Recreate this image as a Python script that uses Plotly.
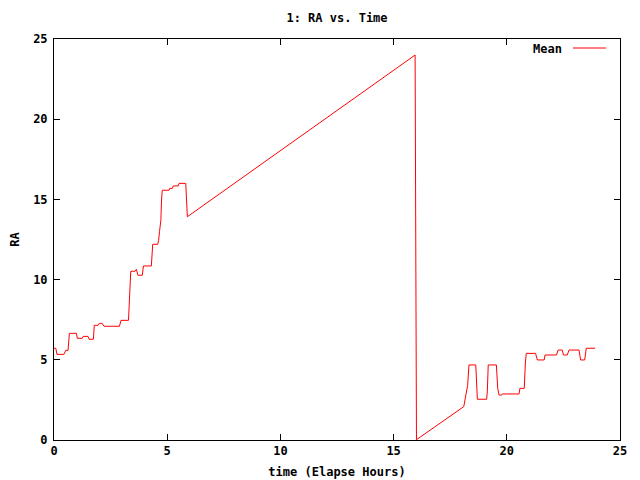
import plotly.graph_objects as go

# Mean RA vs elapsed time
time_hours = [0, 0.08, 0.13, 0.44, 0.52, 0.62, 0.68, 0.99, 1.03, 1.25, 1.29, 1.5, 1.55, 1.74,
              1.78, 1.95, 2.0, 2.13, 2.21, 2.89, 2.96, 3.29, 3.39, 3.58, 3.64, 3.71, 3.9,
              3.95, 4.3, 4.36, 4.58, 4.62, 4.66, 4.72, 4.75, 4.78, 5.08, 5.11, 5.23, 5.27,
              5.49, 5.52, 5.82, 5.89, 15.95, 15.97, 16.0, 16.01, 18.1, 18.17, 18.27, 18.33,
              18.63, 18.7, 19.11, 19.14, 19.18, 19.54, 19.6, 19.66, 19.77, 19.8, 20.54,
              20.58, 20.77, 20.82, 20.86, 21.27, 21.35, 21.65, 21.69, 22.19, 22.27, 22.45,
              22.5, 22.67, 22.75, 23.19, 23.26, 23.44, 23.51, 23.9]
ra_mean = [5.72, 5.72, 5.34, 5.34, 5.59, 5.59, 6.65, 6.65, 6.34, 6.34, 6.46, 6.46, 6.28, 6.28,
           7.15, 7.15, 7.27, 7.27, 7.09, 7.09, 7.46, 7.46, 10.52, 10.52, 10.64, 10.27, 10.27,
           10.85, 10.85, 12.2, 12.2, 12.43, 12.99, 13.7, 14.96, 15.57, 15.57, 15.69, 15.69, 15.84,
           15.84, 16.0, 16.0, 13.92, 24.0, 12.1, 12.0, 0.02, 2.08, 2.54, 3.4, 4.68,
           4.68, 2.54, 2.54, 3.05, 4.68, 4.68, 3.2, 2.8, 2.8, 2.87, 2.87,
           3.22, 3.22, 4.8, 5.4, 5.4, 4.99, 4.99, 5.3, 5.3, 5.61, 5.61,
           5.3, 5.3, 5.61, 5.61, 4.99, 4.99, 5.72, 5.72]

x_ticks = [0, 5, 10, 15, 20, 25]
y_ticks = [0, 5, 10, 15, 20, 25]

FONT = "DejaVu Sans Mono"
TXT = dict(family=FONT, size=12, color="black", weight="bold")

# The page adds an 8px body margin, so the figure is drawn 8px smaller/shifted.
W, H = 632, 472
L, T = 46, 31          # plot area starts at page (54, 39)
PW, PH = 566, 401      # plot area size
R, B = W - L - PW, H - T - PH

fig = go.Figure()
fig.add_trace(go.Scatter(x=time_hours, y=ra_mean, mode="lines", name="Mean",
                         line=dict(color="#ff0000", width=1), showlegend=False))

axis_common = dict(showline=True, linecolor="black", linewidth=1, mirror="ticks",
                   ticks="inside", ticklen=6, tickcolor="black", tickwidth=1,
                   showgrid=False, zeroline=False, automargin=False,
                   tickfont=TXT)

fig.update_layout(
    width=W, height=H,
    margin=dict(l=L, r=R, t=T, b=B, autoexpand=False),
    paper_bgcolor="white", plot_bgcolor="white",
    font=TXT,
    title=dict(text="1: RA vs. Time", x=(L + PW / 2) / W, xanchor="center",
               y=1 - 10 / H, yanchor="middle", font=TXT),
    xaxis=dict(range=[0, 25], tickvals=x_ticks, ticktext=[str(v) for v in x_ticks],
               title=dict(text="time (Elapse Hours)", standoff=10, font=TXT), **axis_common),
    yaxis=dict(range=[0, 25], tickvals=y_ticks, ticktext=[str(v) for v in y_ticks],
               ticklabelstandoff=3,
               title=dict(text="RA", standoff=14, font=TXT), **axis_common),
    annotations=[dict(text="Mean", xref="paper", yref="paper", x=(564 - 54) / PW,
                      y=(440 - 49) / PH, xanchor="right", yanchor="middle",
                      showarrow=False, font=TXT)],
    shapes=[dict(type="line", xref="paper", yref="paper",
                 x0=(573 - 54) / PW, x1=(606 - 54) / PW,
                 y0=(440 - 48) / PH, y1=(440 - 48) / PH,
                 line=dict(color="#ff0000", width=1))],
)

fig.write_html("out.html")
